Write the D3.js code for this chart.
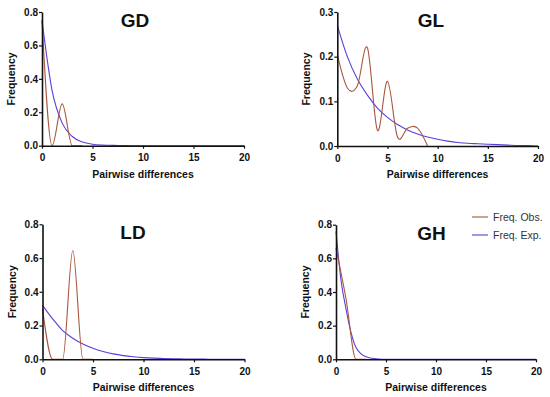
<!DOCTYPE html>
<html>
<head>
<meta charset="utf-8">
<script src="https://cdn.jsdelivr.net/npm/d3@7"></script>
<style>
  body { margin: 0; background: #fff; }
  text { font-family: "Liberation Sans", Arial, sans-serif; }
</style>
</head>
<body>
<div id="chart"></div>
<script>
// pairwise differences (x) for each curve
var gdX = [0, 1, 2, 3, 4]
var gdObs = [0.75, 0, 0.25, 0, 0]
var gdExpX = [0, 1, 2, 3, 4, 5, 6, 7, 8, 9, 10, 11, 12, 13, 14, 15, 16, 17, 18, 19, 20]
var gdExp = [0.75, 0.33, 0.135, 0.055, 0.022, 0.009, 0.004, 0.002, 0.001, 0, 0, 0, 0, 0, 0, 0, 0, 0, 0, 0, 0]

var glX = [0, 1, 2, 3, 4, 5, 6, 7, 8, 9]
var glObs = [0.205, 0.13, 0.135, 0.22, 0.035, 0.145, 0.02, 0.04, 0.04, 0]
var glExpX = [0, 1, 2, 3, 4, 5, 6, 7, 8, 9, 10, 11, 12, 13, 14, 15, 16, 17, 18, 19, 20]
var glExp = [0.27, 0.2, 0.15, 0.114, 0.085, 0.064, 0.048, 0.036, 0.027, 0.02, 0.015, 0.011, 0.008, 0.006, 0.005, 0.004, 0.003, 0.002, 0.001, 0.001, 0]

var ldX = [0, 1, 2, 3, 4, 5]
var ldObs = [0.3, 0, 0, 0.645, 0, 0]
var ldExpX = [0, 1, 2, 3, 4, 5, 6, 7, 8, 9, 10, 11, 12, 13, 14, 15, 16, 17, 18, 19, 20]
var ldExp = [0.32, 0.24, 0.17, 0.125, 0.09, 0.065, 0.046, 0.032, 0.022, 0.015, 0.01, 0.007, 0.005, 0.003, 0.002, 0.001, 0.001, 0, 0, 0, 0]

var ghX = [0, 1, 2, 3]
var ghObs = [0.66, 0.36, 0, 0]
var ghExpX = [0, 0.5, 1, 1.5, 2, 3, 4, 5, 6, 8, 10, 15, 20]
var ghExp = [0.76, 0.47, 0.3, 0.16, 0.07, 0.015, 0.003, 0, 0, 0, 0, 0, 0]

var xTicks = [0, 5, 10, 15, 20]
var legendLabels = ["Freq. Obs.", "Freq. Exp."]

var obsColor = "#a9573e"
var expColor = "#5b3fd8"

var svg = d3.select("#chart").append("svg")
            .attr("width", 550)
            .attr("height", 397)

function makePanel(p)
{
    var g = svg.append("g")

    var x = d3.scaleLinear().domain([0, 20]).range([p.left, p.right])
    var y = d3.scaleLinear().domain([0, p.yMax]).range([p.bottom, p.top])

    var line = d3.line()
                 .x(function(d){ return x(d[0]) })
                 .y(function(d){ return y(d[1]) })
                 .curve(p.curve)

    g.append("path")
     .datum(d3.zip(p.expX, p.exp))
     .attr("d", line)
     .style("fill", "none")
     .style("stroke", expColor)
     .style("stroke-width", 1.1)

    g.append("path")
     .datum(d3.zip(p.obsX, p.obs))
     .attr("d", line)
     .style("fill", "none")
     .style("stroke", obsColor)
     .style("stroke-width", 1.1)

    var xAxis = g.append("g")
                 .attr("transform", "translate(0," + p.bottom + ")")
                 .call(d3.axisBottom(x).tickValues(xTicks).tickSize(3).tickSizeOuter(0))
    var yAxis = g.append("g")
                 .attr("transform", "translate(" + p.left + ",0)")
                 .call(d3.axisLeft(y).tickValues(p.yTicks).tickFormat(d3.format(".1f")).tickSize(3).tickSizeOuter(0))

    g.selectAll(".domain").style("stroke", "#111").style("stroke-width", 1.6)
    g.selectAll(".tick line").style("stroke", "#111").style("stroke-width", 1.2)
    g.selectAll(".tick text")
     .style("font-size", "10px")
     .style("font-weight", "bold")
     .style("fill", "#111")
    xAxis.selectAll(".tick text").attr("dy", "0.95em")
    yAxis.selectAll(".tick text").attr("x", -4)

    g.append("text")
     .text(p.title)
     .attr("x", p.titleX)
     .attr("y", p.top + 15)
     .attr("text-anchor", "middle")
     .style("font-size", "19px")
     .style("font-weight", "bold")
     .style("fill", "#111")

    g.append("text")
     .text("Pairwise differences")
     .attr("x", (p.left + p.right) / 2)
     .attr("y", p.bottom + 32)
     .attr("text-anchor", "middle")
     .style("font-size", "10.5px")
     .style("font-weight", "bold")
     .style("fill", "#111")

    g.append("text")
     .text("Frequency")
     .attr("transform", "translate(" + (p.left - 27) + "," + ((p.top + p.bottom) / 2) + ") rotate(-90)")
     .attr("text-anchor", "middle")
     .style("font-size", "10.5px")
     .style("font-weight", "bold")
     .style("fill", "#111")
}

//GL wiggles need a spline that overshoots, the others stay monotone
makePanel({title: "GD", left: 42, right: 244, top: 12, bottom: 145.7, yMax: 0.8,
           yTicks: [0, 0.2, 0.4, 0.6, 0.8], titleX: 135, curve: d3.curveMonotoneX,
           obsX: gdX, obs: gdObs, expX: gdExpX, exp: gdExp})
makePanel({title: "GL", left: 337.3, right: 538, top: 12, bottom: 146, yMax: 0.3,
           yTicks: [0, 0.1, 0.2, 0.3], titleX: 431, curve: d3.curveCatmullRom.alpha(0),
           obsX: glX, obs: glObs, expX: glExpX, exp: glExp})
makePanel({title: "LD", left: 42.5, right: 244.5, top: 224.3, bottom: 359.3, yMax: 0.8,
           yTicks: [0, 0.2, 0.4, 0.6, 0.8], titleX: 133, curve: d3.curveMonotoneX,
           obsX: ldX, obs: ldObs, expX: ldExpX, exp: ldExp})
makePanel({title: "GH", left: 336, right: 536, top: 224.7, bottom: 359.3, yMax: 0.8,
           yTicks: [0, 0.2, 0.4, 0.6, 0.8], titleX: 431.5, curve: d3.curveMonotoneX,
           obsX: ghX, obs: ghObs, expX: ghExpX, exp: ghExp})

//legend
var legend = svg.append("g").attr("transform", "translate(472,217)")
legend.selectAll("line")
      .data(legendLabels)
      .enter()
      .append("line")
      .attr("x1", 0)
      .attr("x2", 16)
      .attr("y1", function(d, i){ return i * 18 })
      .attr("y2", function(d, i){ return i * 18 })
      .style("stroke", function(d, i){ return i == 0 ? obsColor : expColor })
      .style("stroke-width", 1.1)
legend.selectAll("text")
      .data(legendLabels)
      .enter()
      .append("text")
      .text(function(d){ return d })
      .attr("x", 21)
      .attr("y", function(d, i){ return i * 18 + 3.5 })
      .style("font-size", "10.5px")
      .style("fill", "#333")
</script>
</body>
</html>
